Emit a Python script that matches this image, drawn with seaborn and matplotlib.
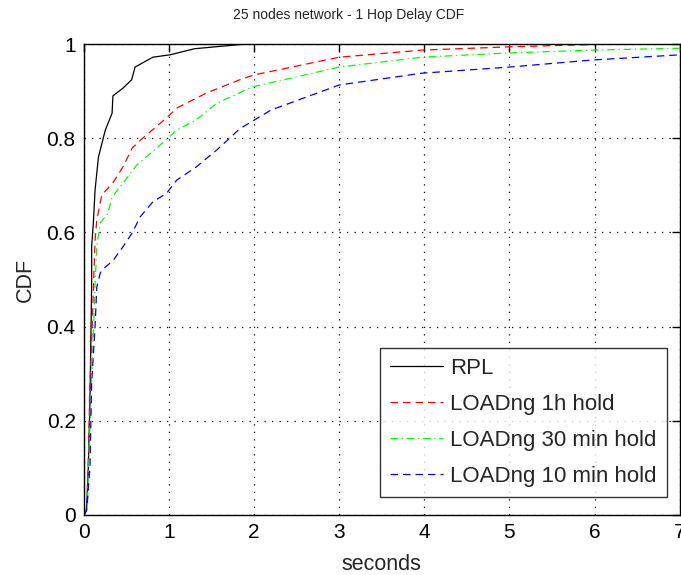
import matplotlib
matplotlib.use("Agg")
import matplotlib.pyplot as plt
import seaborn as sns
import pandas as pd
from matplotlib.ticker import FuncFormatter

rpl_x = [0, 0.03, 0.05, 0.07, 0.09, 0.09, 0.11, 0.13, 0.17, 0.25, 0.33, 0.34, 0.45, 0.56, 0.60, 0.81, 1.01, 1.3, 1.6, 1.91, 7]
rpl_y = [0, 0.01, 0.10, 0.24, 0.49, 0.57, 0.62, 0.69, 0.76, 0.817, 0.853, 0.89, 0.905, 0.924, 0.951, 0.972, 0.977, 0.99, 0.995, 1.0, 1.0]

h1_x = [0, 0.04, 0.07, 0.09, 0.11, 0.13, 0.15, 0.21, 0.34, 0.46, 0.57, 0.69, 0.97, 1.09, 1.44, 1.83, 1.99, 3.0, 3.97, 5.0, 6.2, 7]
h1_y = [0, 0.02, 0.28, 0.365, 0.478, 0.584, 0.626, 0.68, 0.705, 0.74, 0.78, 0.80, 0.843, 0.864, 0.896, 0.924, 0.934, 0.972, 0.987, 0.994, 1.0, 1.0]

m30_x = [0, 0.04, 0.09, 0.11, 0.13, 0.15, 0.19, 0.28, 0.33, 0.46, 0.62, 0.86, 1.09, 1.32, 1.56, 1.98, 3.0, 3.97, 5.0, 5.97, 7]
m30_y = [0, 0.02, 0.30, 0.386, 0.49, 0.57, 0.62, 0.64, 0.675, 0.705, 0.743, 0.78, 0.817, 0.839, 0.874, 0.909, 0.951, 0.972, 0.981, 0.987, 0.991]

m10_x = [0, 0.03, 0.07, 0.09, 0.13, 0.15, 0.19, 0.21, 0.34, 0.46, 0.57, 0.66, 0.81, 0.97, 1.09, 1.32, 1.56, 1.83, 2.2, 3.0, 3.97, 5.0, 5.97, 7]
m10_y = [0, 0.01, 0.10, 0.28, 0.40, 0.484, 0.513, 0.52, 0.54, 0.57, 0.60, 0.633, 0.665, 0.683, 0.711, 0.739, 0.775, 0.82, 0.86, 0.913, 0.938, 0.951, 0.966, 0.977]

labels = ["RPL", "LOADng 1h hold", "LOADng 30 min hold", "LOADng 10 min hold"]
x_ticks = [0, 1, 2, 3, 4, 5, 6, 7]
y_ticks = [0, 0.2, 0.4, 0.6, 0.8, 1.0]

sns.set_style("white")
plt.rcParams['font.family'] = ['Liberation Sans', 'DejaVu Sans']

fig = plt.figure(figsize=(6.81, 5.75), dpi=100)
ax = fig.add_axes([84/681, 1 - 515/575, 1 - 84/681 - 0.002, (515 - 44)/575])

series = [
    (rpl_x, rpl_y, "#000000", "-"),
    (h1_x, h1_y, "#FF0000", (0, (6, 4))),
    (m30_x, m30_y, "#00FF00", (0, (6, 3, 1, 3))),
    (m10_x, m10_y, "#0000FF", (0, (6, 4))),
]
for (xs, ys, c, ls), lab in zip(series, labels):
    df = pd.DataFrame({"x": xs, "y": ys})
    sns.lineplot(data=df, x="x", y="y", ax=ax, color=c, linestyle=ls,
                 linewidth=0.9, sort=False, estimator=None, label=lab)

ax.set_xlim(0, 7)
ax.set_ylim(0, 1)
ax.set_xticks(x_ticks)
ax.set_yticks(y_ticks)
ax.yaxis.set_major_formatter(FuncFormatter(lambda v, p: f"{v:g}"))
ax.tick_params(direction="in", length=6, width=1, top=True, right=True,
               labelsize=15, colors="black", pad=6)
for s in ax.spines.values():
    s.set_color("black")
    s.set_linewidth(1.0)
ax.grid(True, linestyle=(0, (1, 5)), color="black", linewidth=0.9)
ax.set_axisbelow(True)
ax.set_xlabel("seconds", fontsize=15.5, labelpad=8.5)
ax.set_ylabel("CDF", fontsize=15.5, labelpad=8)
ax.set_title("25 nodes network - 1 Hop Delay CDF", fontsize=10, pad=18, x=0.444)

leg = ax.legend(loc="lower right", bbox_to_anchor=(0.978, 0.038), fontsize=16,
                frameon=True, fancybox=False, edgecolor="black",
                handlelength=2.4, handletextpad=0.32, borderpad=0.45,
                labelspacing=0.68, borderaxespad=0)
leg.get_frame().set_linewidth(1.0)

fig.savefig("out.png", dpi=100)
